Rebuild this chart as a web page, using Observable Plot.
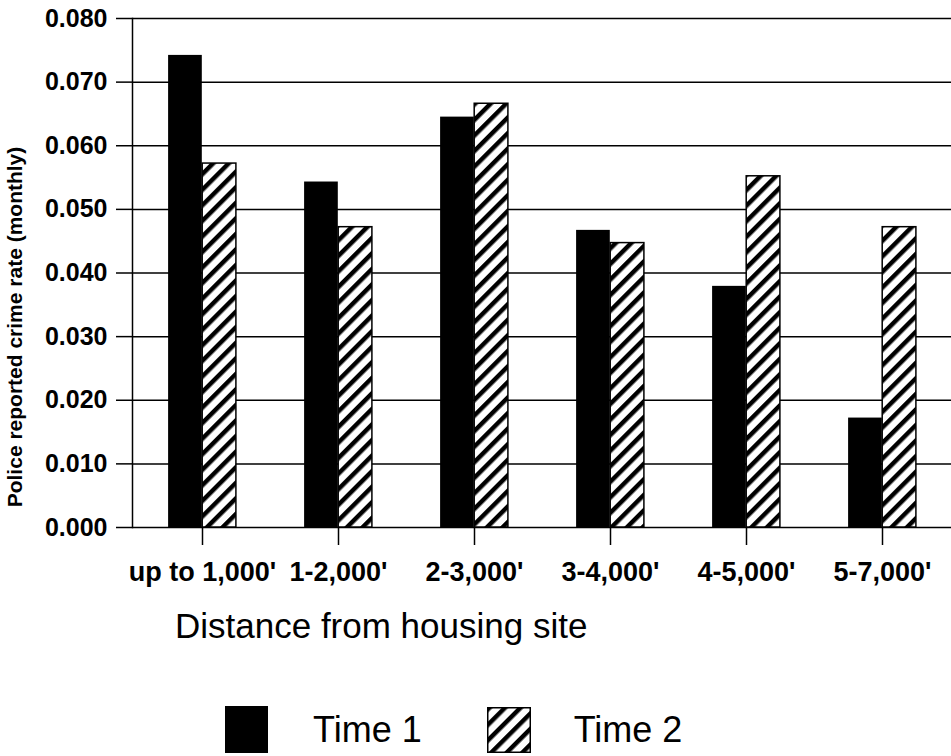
<!DOCTYPE html>
<html><head><meta charset="utf-8">
<script src="https://cdn.jsdelivr.net/npm/d3@7"></script>
<script src="https://cdn.jsdelivr.net/npm/@observablehq/plot@0.6"></script>
<style>
body{margin:0;background:#fff;font-family:"Liberation Sans",Arial,sans-serif;}
#wrap{position:relative;width:951px;height:756px;overflow:hidden;background:#fff;}
#xtitle{position:absolute;left:175px;top:608px;font-size:35px;line-height:1;color:#000;white-space:nowrap;}
#legend{position:absolute;left:225px;top:706px;display:flex;align-items:center;}
.sw{width:43px;height:47px;box-sizing:border-box;}
.lt{font-size:36px;line-height:1;margin-left:45px;margin-right:65px;white-space:nowrap;}
.lt:last-child{margin-right:0;margin-left:43px;}
</style></head><body>
<svg width="0" height="0" style="position:absolute">
  <defs>
    <pattern id="hatch" patternUnits="userSpaceOnUse" width="11" height="11" patternTransform="rotate(45)">
      <rect width="11" height="11" fill="#fff"></rect>
      <rect x="0" y="0" width="4.5" height="11" fill="#000"></rect>
    </pattern>
  </defs>
</svg>
<div id="wrap"></div>
<script>
const categories = ["up to 1,000'", "1-2,000'", "2-3,000'", "3-4,000'", "4-5,000'", "5-7,000'"];
const time1 = [0.0742, 0.0543, 0.0645, 0.0467, 0.0379, 0.0172];
const time2 = [0.0572, 0.0472, 0.0666, 0.0447, 0.0552, 0.0472];
const yTicks = [0, 0.01, 0.02, 0.03, 0.04, 0.05, 0.06, 0.07, 0.08];
const seriesNames = ["Time 1", "Time 2"];
const yLabel = "Police reported crime rate (monthly)";
const xLabel = "Distance from housing site";

const rows1 = categories.map((c, i) => ({category: c, value: time1[i]}));
const rows2 = categories.map((c, i) => ({category: c, value: time2[i]}));

const chart = Plot.plot({
  width: 951,
  height: 600,
  marginTop: 18,
  marginBottom: 73,
  marginLeft: 132,
  marginRight: 0,
  style: {fontFamily: "'Liberation Sans', Arial, sans-serif", background: "white", color: "black", overflow: "visible"},
  x: {type: "band", domain: categories, padding: 0, axis: null},
  y: {domain: [0, 0.08], axis: null},
  marks: [
    Plot.ruleY(yTicks, {stroke: "black", strokeWidth: 1.5}),
    Plot.barY(rows1, {x: "category", y: "value", fill: "black", insetLeft: 34.1, insetRight: 68.2}),
    Plot.barY(rows2, {x: "category", y: "value", fill: "url(#hatch)", stroke: "black", strokeWidth: 1.5, insetLeft: 68.2, insetRight: 34.1}),
    Plot.frame({anchor: "left", stroke: "black", strokeWidth: 1.5}),
    Plot.axisY({ticks: yTicks, tickSize: 16, tickPadding: 9, tickFormat: ".3f", fontSize: 25, fontWeight: "bold", label: null, strokeWidth: 1.5, strokeOpacity: 1}),
    Plot.axisX({tickSize: 18, tickPadding: 16, fontSize: 27, fontWeight: "bold", label: null, strokeWidth: 1.5, strokeOpacity: 1}),
    Plot.text([yLabel], {text: d => d, frameAnchor: "left", textAnchor: "middle", rotate: -90, dx: -117, dy: 54, fontSize: 21, fontWeight: "bold"})
  ]
});

const wrap = document.getElementById("wrap");
wrap.appendChild(chart);

const title = document.createElement("div");
title.id = "xtitle";
title.textContent = xLabel;
wrap.appendChild(title);

const legend = document.createElement("div");
legend.id = "legend";
seriesNames.forEach((name, i) => {
  const sw = document.createElement("div");
  sw.className = "sw";
  if (i === 0) {
    sw.style.background = "#000";
  } else {
    sw.style.height = "46px";
    sw.style.width = "44px";
    sw.innerHTML = '<svg width="44" height="46"><rect x="0.75" y="0.75" width="42.5" height="44.5" fill="url(#hatch)" stroke="#000" stroke-width="1.5"></rect></svg>';
  }
  const t = document.createElement("div");
  t.className = "lt";
  t.textContent = name;
  legend.appendChild(sw);
  legend.appendChild(t);
});
wrap.appendChild(legend);
</script>
</body></html>
